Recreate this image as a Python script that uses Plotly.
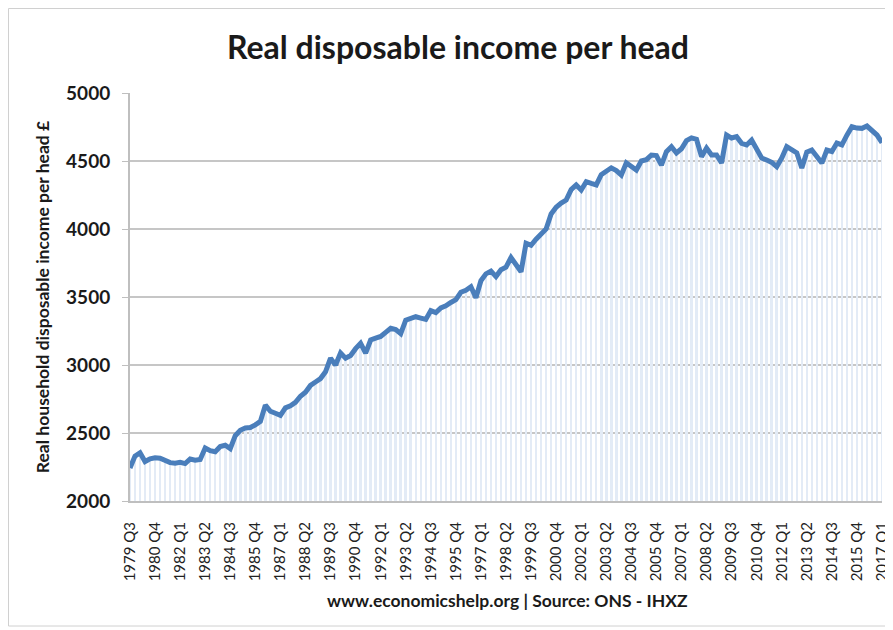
import plotly.graph_objects as go

# Quarterly series, 1979 Q3 .. 2017 Q1 (151 quarters)
start_year = 1979
start_quarter = 3
income = [
    2243, 2330, 2355, 2290, 2310, 2318, 2315, 2300, 2282, 2278,
    2285, 2275, 2309, 2300, 2305, 2390, 2370, 2362, 2400, 2410,
    2385, 2480, 2520, 2537, 2540, 2560, 2585, 2705, 2660, 2645,
    2630, 2685, 2700, 2725, 2770, 2800, 2850, 2875, 2900, 2950,
    3050, 3000, 3088, 3050, 3070, 3120, 3160, 3088, 3184, 3198,
    3210, 3240, 3270, 3260, 3230, 3330, 3345, 3355, 3345, 3335,
    3400, 3385, 3420, 3435, 3460, 3480, 3535, 3550, 3575, 3495,
    3620, 3670, 3690, 3650, 3700, 3720, 3790, 3730, 3686, 3895,
    3880, 3925, 3960, 4000, 4110, 4160, 4190, 4213, 4290, 4324,
    4287, 4348, 4335, 4324, 4400, 4421, 4450, 4430, 4397, 4487,
    4460, 4434, 4500, 4510, 4544, 4540, 4470, 4569, 4605, 4559,
    4590, 4650, 4670, 4660, 4532, 4595, 4544, 4544, 4485, 4691,
    4669, 4679, 4630, 4618, 4654, 4581, 4522, 4507, 4490, 4458,
    4522, 4605, 4585, 4560, 4448, 4565, 4581, 4530, 4485, 4581,
    4570, 4632, 4618, 4690, 4752, 4742, 4740, 4757, 4728, 4691,
    4635,
]

categories = []
y, q = start_year, start_quarter
for _ in income:
    categories.append(f"{y} Q{q}")
    q += 1
    if q > 4:
        q = 1
        y += 1

tick_labels = [
    "1979 Q3", "1980 Q4", "1982 Q1", "1983 Q2", "1984 Q3", "1985 Q4",
    "1987 Q1", "1988 Q2", "1989 Q3", "1990 Q4", "1992 Q1", "1993 Q2",
    "1994 Q3", "1995 Q4", "1997 Q1", "1998 Q2", "1999 Q3", "2000 Q4",
    "2002 Q1", "2003 Q2", "2004 Q3", "2005 Q4", "2007 Q1", "2008 Q2",
    "2009 Q3", "2010 Q4", "2012 Q1", "2013 Q2", "2014 Q3", "2015 Q4",
    "2017 Q1",
]
y_ticks = [2000, 2500, 3000, 3500, 4000, 4500, 5000]

x_idx = list(range(len(income)))
tick_pos = [categories.index(t) for t in tick_labels]

FONT = "Lato"
# page body has an 8px margin, so the figure is drawn 8px smaller/offset
OFF = 8
W, H = 893 - OFF, 630 - OFF
L, T = 130 - OFF, 93 - OFF
PW, PH = 752, 408
R = W - L - PW
B = H - T - PH


def px_x(sx):
    return (sx - OFF - L) / PW


def px_y(sy):
    return (T + PH - (sy - OFF)) / PH


fig = go.Figure()
fig.add_trace(go.Bar(
    x=x_idx, y=income, marker=dict(color="#e3ebf6", line=dict(width=0)),
    width=0.5, hoverinfo="skip", showlegend=False,
))
fig.add_trace(go.Scatter(
    x=x_idx, y=income, mode="lines",
    line=dict(color="#4a7ebb", width=5, shape="linear"),
    customdata=categories, hovertemplate="%{customdata}: %{y}<extra></extra>",
    showlegend=False,
))

fig.update_layout(
    width=W, height=H,
    margin=dict(l=L, r=R, t=T, b=B, autoexpand=False),
    paper_bgcolor="white", plot_bgcolor="white",
    bargap=0,
    title=dict(
        text="Real disposable income per head",
        x=(458 - OFF) / W, y=1 - (48 - OFF) / H, xanchor="center", yanchor="middle",
        xref="container", yref="container",
        font=dict(family=FONT, size=32, color="#1a1a1a", weight="bold"),
    ),
    xaxis=dict(
        range=[0, len(income) - 1],
        tickmode="array", tickvals=tick_pos, ticktext=tick_labels,
        tickangle=-90, ticks="", showgrid=False, zeroline=False,
        showline=True, linecolor="#bfbfbf", linewidth=2,
        tickfont=dict(family=FONT, size=15, color="#222222"),
        ticklabelstandoff=13,
    ),
    yaxis=dict(
        range=[2000, 5000],
        tickmode="array", tickvals=y_ticks,
        ticks="outside", ticklen=6, tickcolor="#bfbfbf", tickwidth=1,
        showgrid=True, gridcolor="#c6c6c6", gridwidth=2,
        zeroline=False, showline=True, linecolor="#bfbfbf", linewidth=2,
        tickfont=dict(family=FONT, size=19, color="#1a1a1a", weight="bold"),
        ticklabelstandoff=8,
        title=dict(
            text="Real household disposable income per head £",
            font=dict(family=FONT, size=17.5, color="#1a1a1a", weight="bold"),
            standoff=12,
        ),
    ),
    annotations=[dict(
        text="www.economicshelp.org | Source: ONS - IHXZ",
        xref="paper", yref="paper",
        x=px_x(507), y=px_y(600),
        xanchor="center", yanchor="middle", showarrow=False,
        font=dict(family=FONT, size=17.5, color="#1a1a1a", weight="bold"),
    )],
    shapes=[dict(
        type="rect", xref="paper", yref="paper",
        x0=px_x(8.5), x1=px_x(891),
        y0=px_y(626), y1=px_y(8.5),
        line=dict(color="#d0d0d0", width=1), fillcolor="rgba(0,0,0,0)",
        layer="below",
    )],
)

fig.write_html("out.html")
